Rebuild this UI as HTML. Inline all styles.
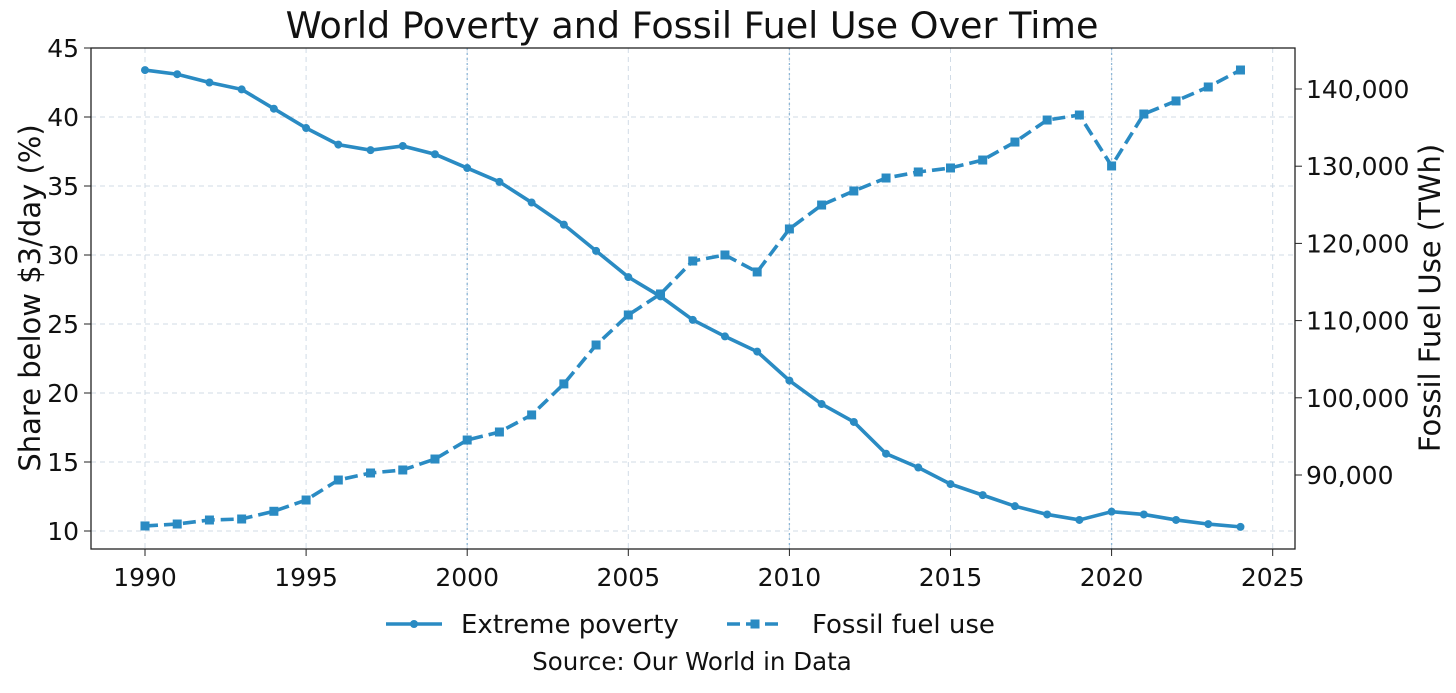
<!DOCTYPE html>
<html><head><meta charset="utf-8"><style>
body{margin:0;background:#fff;}
svg text{font-family:"DejaVu Sans","Liberation Sans",sans-serif;fill:#111;}
</style></head><body>
<svg id="c" width="1456" height="688" xmlns="http://www.w3.org/2000/svg"></svg>
<script>
const years=[1990,1991,1992,1993,1994,1995,1996,1997,1998,1999,2000,2001,2002,2003,2004,2005,2006,2007,2008,2009,2010,2011,2012,2013,2014,2015,2016,2017,2018,2019,2020,2021,2022,2023,2024];
const poverty=[43.4,43.1,42.5,42.0,40.6,39.2,38.0,37.6,37.9,37.3,36.3,35.3,33.8,32.2,30.3,28.4,27.0,25.3,24.1,23.0,20.9,19.2,17.9,15.6,14.6,13.4,12.6,11.8,11.2,10.8,11.4,11.2,10.8,10.5,10.3];
const fossil=[83400,83650,84170,84300,85300,86760,89350,90260,90650,92070,94530,95570,97780,101800,106840,110730,113450,117720,118500,116300,121870,124970,126790,128470,129250,129770,130800,133130,135980,136630,130030,136760,138450,140260,142460];
const xTicks=[1990,1995,2000,2005,2010,2015,2020,2025];
const yLeftTicks=[10,15,20,25,30,35,40,45];
const yRightTicks=[90000,100000,110000,120000,130000,140000];
const NS="http://www.w3.org/2000/svg";
const svg=document.getElementById('c');
const L=91,R=1295,T=48,B=549;
const xs=y=>145+(y-1990)*32.22;
const yl=v=>48+(45-v)*13.8;
const yr=v=>89+(140000-v)*0.00772;
const C="#2a8bc3";
function el(t,a,p){const e=document.createElementNS(NS,t);for(const k in a)e.setAttribute(k,a[k]);(p||svg).appendChild(e);return e;}
xTicks.forEach(t=>{const g=el('line',{x1:xs(t),x2:xs(t),y1:T,y2:B,stroke:'#d0dbe6','stroke-dasharray':'5,4','stroke-width':1});});
[2000,2010,2020].forEach(t=>{const g=el('line',{x1:xs(t),x2:xs(t),y1:T,y2:B,stroke:'#8fb8d8','stroke-dasharray':'2,3','stroke-width':1.3});});
yLeftTicks.forEach(t=>{const g=el('line',{x1:L,x2:R,y1:yl(t),y2:yl(t),stroke:'#d0dbe6','stroke-dasharray':'5,4','stroke-width':1});});
const fr=el('rect',{x:L,y:T,width:R-L,height:B-T,fill:'none',stroke:'#222','stroke-width':1.3});

xTicks.forEach(t=>{el('line',{x1:xs(t),x2:xs(t),y1:B,y2:B+7,stroke:'#222'});const tx=el('text',{x:xs(t),y:B+37,'text-anchor':'middle','font-size':25});tx.textContent=t;});
yLeftTicks.forEach(t=>{el('line',{x1:L-7,x2:L,y1:yl(t),y2:yl(t),stroke:'#222'});const tx=el('text',{x:L-12,y:yl(t)+9,'text-anchor':'end','font-size':25});tx.textContent=t;});
yRightTicks.forEach(t=>{el('line',{x1:R,x2:R+7,y1:yr(t),y2:yr(t),stroke:'#222'});const tx=el('text',{x:R+11,y:yr(t)+9,'font-size':25});tx.textContent=t.toLocaleString('en-US');});
const p1=el('polyline',{points:years.map((y,i)=>xs(y)+','+yl(poverty[i])).join(' '),fill:'none',stroke:C,'stroke-width':3.6});

years.forEach((y,i)=>{const m=el('circle',{cx:xs(y),cy:yl(poverty[i]),r:4,fill:C});});
const p2=el('polyline',{points:years.map((y,i)=>xs(y)+','+yr(fossil[i])).join(' '),fill:'none',stroke:C,'stroke-width':3.6,'stroke-dasharray':'13,6'});

years.forEach((y,i)=>{const m=el('rect',{x:xs(y)-4.5,y:yr(fossil[i])-4.5,width:9,height:9,fill:C});});
</script>
<svg width="1456" height="688" style="position:absolute;left:0;top:0" xmlns="http://www.w3.org/2000/svg">
<text x="692" y="38" text-anchor="middle" font-size="36.5">World Poverty and Fossil Fuel Use Over Time</text>
<text transform="translate(40,298) rotate(-90)" text-anchor="middle" font-size="29">Share below $3/day (%)</text>
<text transform="translate(1440,298) rotate(-90)" text-anchor="middle" font-size="29">Fossil Fuel Use (TWh)</text>
<g>
<line x1="386" x2="442" y1="624" y2="624" stroke="#2a8bc3" stroke-width="3.6"/><circle cx="414" cy="624" r="4" fill="#2a8bc3"/>
<text x="461" y="633" font-size="26">Extreme poverty</text></g>
<g>
<line x1="727" x2="783" y1="624" y2="624" stroke="#2a8bc3" stroke-width="3.6" stroke-dasharray="13,6"/><rect x="750.5" y="619.5" width="9" height="9" fill="#2a8bc3"/>
<text x="812" y="633" font-size="26">Fossil fuel use</text></g>
<text x="692" y="670" text-anchor="middle" font-size="24.5">Source: Our World in Data</text>
</svg>
</body></html>
